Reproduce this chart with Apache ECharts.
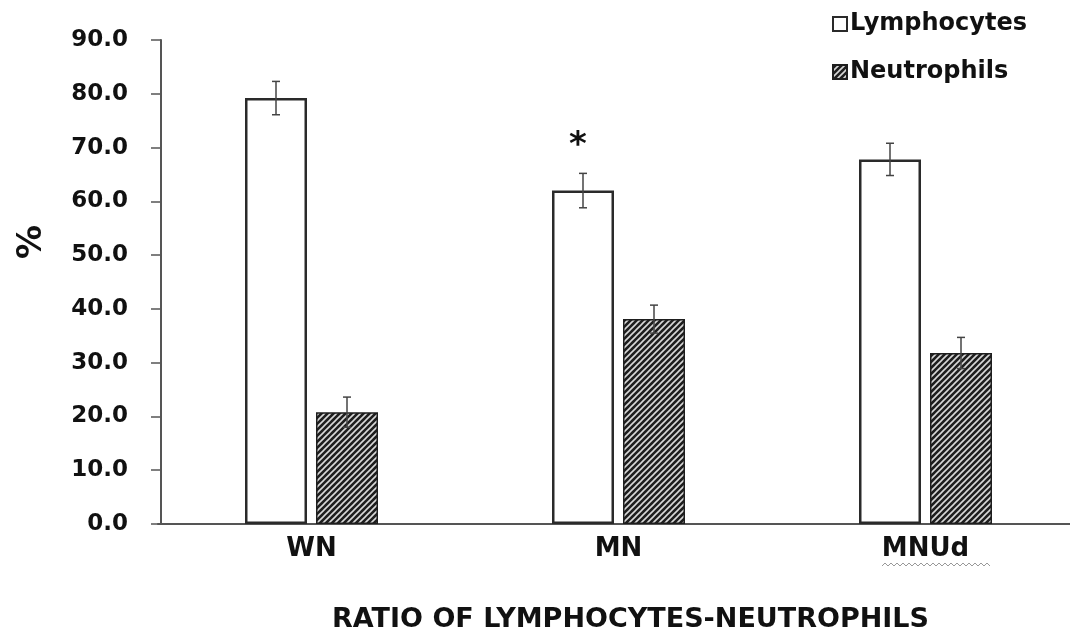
<!DOCTYPE html>
<html>
<head>
<meta charset="utf-8">
<script src="https://cdn.jsdelivr.net/npm/echarts@6/dist/echarts.min.js"></script>
<style>html,body{margin:0;padding:0;background:#fff}#c{width:1070px;height:635px}</style>
</head>
<body>
<div id="c"></div>
<script>
// ---- data ----
const categories = ['WN', 'MN', 'MNUd'];
const seriesNames = ['Lymphocytes', 'Neutrophils'];
const lymphocytes = [79.2, 62.0, 67.8];
const neutrophils = [20.8, 38.1, 31.8];
const lymphErr = [3.1, 3.2, 3.0];
const neutErr = [2.8, 2.6, 2.9];
const significance = ['', '*', ''];
const yTicks = [0, 10, 20, 30, 40, 50, 60, 70, 80, 90];

// ---- styles ----
const FONT = '"DejaVu Sans", Verdana, sans-serif';
const BAR_W = 62, GAP = 9;
const OFFSET = (BAR_W + GAP) / 2;

function stripePattern() {
  const s = 6;
  const c = document.createElement('canvas');
  c.width = s; c.height = s;
  const g = c.getContext('2d');
  g.fillStyle = '#1e1e1e';
  g.fillRect(0, 0, s, s);
  g.strokeStyle = '#d8d8d8';
  g.lineWidth = 1.6;
  g.beginPath();
  g.moveTo(0, s); g.lineTo(s, 0);
  g.moveTo(-s / 2, s / 2); g.lineTo(s / 2, -s / 2);
  g.moveTo(s / 2, s * 1.5); g.lineTo(s * 1.5, s / 2);
  g.stroke();
  return { image: c, repeat: 'repeat' };
}
const pattern = stripePattern();

const errData = [];
categories.forEach((c, i) => {
  errData.push([i, lymphocytes[i] - lymphErr[i], lymphocytes[i] + lymphErr[i], -1, significance[i]]);
  errData.push([i, neutrophils[i] - neutErr[i], neutrophils[i] + neutErr[i], 1, '']);
});

const chart = echarts.init(document.getElementById('c'), null, { renderer: 'canvas' });
chart.setOption({
  animation: false,
  backgroundColor: '#fff',
  grid: { left: 158, right: -9, top: 40, bottom: 111, containLabel: false, outerBoundsMode: 'none' },
  legend: {
    orient: 'vertical',
    left: 827,
    top: 7,
    itemWidth: 14,
    itemHeight: 14,
    itemGap: 24,
    icon: 'rect',
    data: seriesNames,
    textStyle: { fontFamily: FONT, fontWeight: 'bold', fontSize: 24, color: '#111', padding: [0, 0, 0, -2] }
  },
  xAxis: {
    type: 'category',
    data: categories,
    axisLine: { lineStyle: { color: '#555', width: 2 } },
    axisTick: { show: false },
    axisLabel: { fontFamily: FONT, fontWeight: 'bold', fontSize: 26, color: '#111', margin: 12 },
    name: 'RATIO OF LYMPHOCYTES-NEUTROPHILS',
    nameLocation: 'middle',
    nameGap: 82,
    nameTextStyle: { fontFamily: FONT, fontWeight: 'bold', fontSize: 27, color: '#111', padding: [0, 0, 0, 24] }
  },
  yAxis: {
    type: 'value',
    min: 0, max: 90, interval: 10,
    offset: -3,
    name: '%',
    nameLocation: 'middle',
    nameGap: 112,
    nameRotate: 90,
    nameTextStyle: { fontFamily: FONT, fontWeight: 'bold', fontSize: 34, color: '#111', align: 'center', padding: [0, 0, 0, 80] },
    axisLine: { show: true, lineStyle: { color: '#555', width: 2 } },
    axisTick: { show: true, length: 10, lineStyle: { color: '#555', width: 1.5 } },
    splitLine: { show: false },
    axisLabel: {
      fontFamily: FONT, fontWeight: 'bold', fontSize: 23, color: '#111', margin: 33,
      customValues: yTicks,
      formatter: v => v.toFixed(1)
    }
  },
  series: [
    {
      name: seriesNames[0], type: 'bar', data: lymphocytes,
      barWidth: BAR_W, barGap: (GAP / BAR_W * 100) + '%',
      itemStyle: { color: '#fff', borderColor: '#2a2a2a', borderWidth: 2.5 }
    },
    {
      name: seriesNames[1], type: 'bar', data: neutrophils,
      barWidth: BAR_W,
      itemStyle: { color: pattern, borderColor: '#1e1e1e', borderWidth: 1.5 }
    },
    {
      type: 'custom',
      data: errData,
      z: 10,
      silent: true,
      renderItem: function (params, api) {
        const cx = api.coord([api.value(0), 0])[0] + api.value(3) * OFFSET;
        const lo = api.coord([api.value(0), api.value(1)])[1];
        const hi = api.coord([api.value(0), api.value(2)])[1];
        const hw = 4;
        const st = { stroke: '#444', lineWidth: 1.5 };
        const children = [
          { type: 'line', shape: { x1: cx, y1: lo, x2: cx, y2: hi }, style: st },
          { type: 'line', shape: { x1: cx - hw, y1: hi, x2: cx + hw, y2: hi }, style: st },
          { type: 'line', shape: { x1: cx - hw, y1: lo, x2: cx + hw, y2: lo }, style: st }
        ];
        const sig = errData[params.dataIndex][4];
        if (sig) {
          children.push({
            type: 'text',
            style: { text: sig, x: cx - 5, y: hi - 10, align: 'center', verticalAlign: 'bottom',
              font: 'bold 34px ' + FONT, fill: '#111' }
          });
        }
        return { type: 'group', children: children };
      }
    }
  ],
  graphic: [
    {
      type: 'polyline',
      shape: { points: (function () { const p = []; for (let x = 882; x <= 990; x += 3) p.push([x, (x / 3) % 2 ? 563 : 566]); return p; })() },
      style: { stroke: '#999', lineWidth: 1, fill: null }
    }
  ]
});
</script>
</body>
</html>
